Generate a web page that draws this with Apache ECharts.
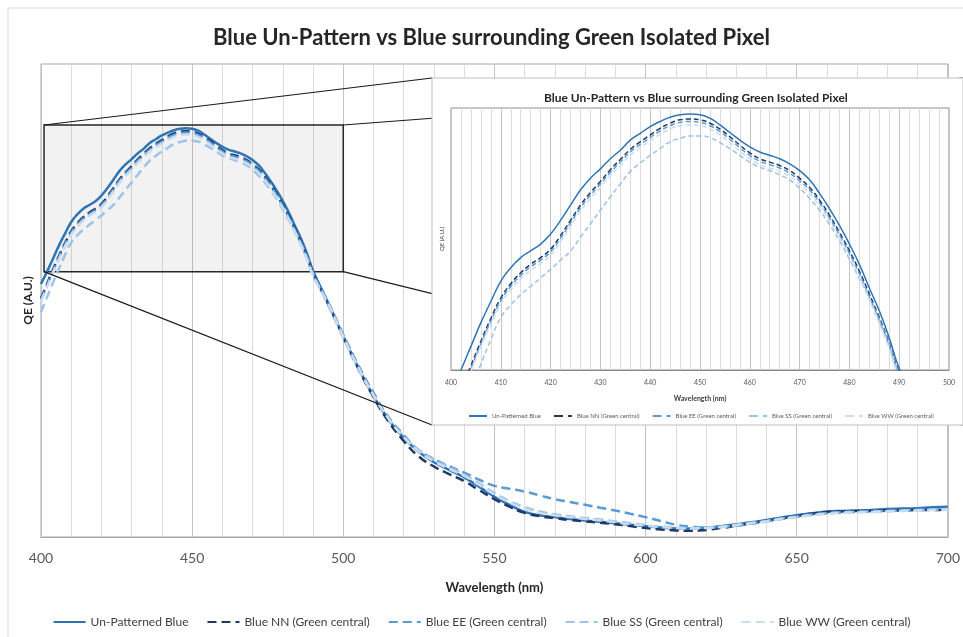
<!DOCTYPE html>
<html>
<head>
    <meta charset="utf-8">
    <title>Blue Un-Pattern vs Blue surrounding Green Isolated Pixel</title>
    <script src="https://cdn.jsdelivr.net/npm/echarts@6/dist/echarts.min.js"></script>
    <style>
        html, body { margin: 0; padding: 0; background: #fff; }
        #chart { width: 963px; height: 637px; }
    </style>
</head>
<body>
<div id="chart"></div>

<script>
    // wavelength (nm) - 2 nm steps in the zoomed part, 5 nm after
    const wavelengths = [
        400, 402, 404, 406, 408, 410, 412, 414, 416, 418, 420, 422, 424, 426, 428, 430,
        432, 434, 436, 438, 440, 442, 444, 446, 448, 450, 452, 454, 456, 458, 460, 462,
        464, 466, 468, 470, 472, 474, 476, 478, 480, 482, 484, 486, 488, 490,
        495, 500, 505, 510, 515, 520, 525, 530, 535, 540, 545, 550, 555, 560, 565, 570,
        575, 580, 585, 590, 595, 600, 605, 610, 615, 620, 625, 630, 635, 640, 645, 650,
        655, 660, 665, 670, 675, 680, 685, 690, 695, 700
    ];

    const unPatterned = [
        53.5, 56.1, 58.9, 61.7, 64.2, 66.6, 68.2, 69.4, 70.2, 71.0, 72.2, 73.8, 75.6, 77.4, 78.8, 79.9,
        81.1, 82.1, 83.3, 84.1, 84.9, 85.5, 86.0, 86.3, 86.4, 86.3, 85.9, 85.1, 84.2, 83.3, 82.5, 81.9,
        81.5, 81.1, 80.5, 79.7, 78.6, 77.0, 75.2, 73.2, 71.0, 68.6, 65.8, 63.1, 59.9, 56.3,
        49.5, 42.5, 35.8, 29.8, 24.8, 21.0, 18.0, 15.8, 14.2, 12.6, 10.6, 8.5, 6.8, 5.3, 4.6, 4.2,
        3.8, 3.5, 3.2, 2.9, 2.6, 2.3, 2.0, 1.8, 1.8, 2.0, 2.3, 2.7, 3.1, 3.6, 4.1, 4.6,
        5.0, 5.4, 5.5, 5.6, 5.7, 5.9, 6.0, 6.1, 6.3, 6.4
    ];
    const blueNN = [
        50.5, 53.5, 56.6, 59.5, 62.2, 64.6, 66.3, 67.6, 68.6, 69.4, 70.4, 72.0, 73.8, 75.6, 77.1, 78.4,
        79.8, 81.0, 82.2, 83.1, 83.9, 84.7, 85.3, 85.7, 85.8, 85.7, 85.3, 84.6, 83.7, 82.7, 81.8, 81.1,
        80.7, 80.3, 79.7, 78.8, 77.7, 76.2, 74.4, 72.4, 70.2, 67.8, 65.1, 62.3, 59.3, 55.8,
        49.2, 42.3, 35.6, 29.6, 24.4, 20.3, 17.0, 14.9, 13.3, 11.8, 9.9, 8.0, 6.4, 5.1, 4.4, 4.0,
        3.6, 3.3, 3.0, 2.7, 2.3, 1.9, 1.6, 1.4, 1.3, 1.5, 1.9, 2.4, 2.9, 3.4, 3.9, 4.4,
        4.9, 5.3, 5.4, 5.5, 5.5, 5.6, 5.6, 5.7, 5.7, 5.8
    ];
    const blueEE = [
        50.2, 53.2, 56.3, 59.2, 61.9, 64.3, 66.0, 67.3, 68.3, 69.1, 70.1, 71.7, 73.5, 75.3, 76.8, 78.1,
        79.5, 80.7, 81.9, 82.8, 83.6, 84.4, 85.0, 85.4, 85.5, 85.4, 85.0, 84.3, 83.4, 82.4, 81.5, 80.8,
        80.4, 80.0, 79.4, 78.5, 77.4, 75.9, 74.1, 72.1, 69.9, 67.5, 64.8, 62.0, 59.0, 55.5,
        49.6, 42.8, 36.3, 30.5, 25.3, 21.6, 18.3, 16.5, 15.0, 13.6, 12.1, 10.8, 10.2, 9.6, 8.8, 8.0,
        7.4, 6.8, 6.2, 5.6, 4.9, 4.2, 3.4, 2.6, 2.2, 2.0, 2.1, 2.4, 2.8, 3.3, 3.8, 4.3,
        4.7, 5.0, 5.2, 5.3, 5.4, 5.5, 5.6, 5.7, 5.8, 5.9
    ];
    const blueSS = [
        47.5, 50.7, 53.8, 56.8, 59.7, 62.3, 63.8, 65.0, 66.0, 67.0, 68.0, 69.1, 70.2, 71.8, 73.4, 75.0,
        76.6, 78.1, 79.6, 80.6, 81.5, 82.3, 83.1, 83.5, 83.8, 83.8, 83.6, 83.0, 82.3, 81.5, 80.7, 80.1,
        79.7, 79.2, 78.6, 77.6, 76.4, 75.0, 73.3, 71.4, 69.2, 66.9, 64.6, 62.0, 59.1, 55.6,
        49.0, 42.2, 35.7, 29.9, 25.0, 21.3, 18.4, 16.4, 14.8, 13.2, 11.3, 9.3, 7.6, 6.3, 5.4, 4.8,
        4.4, 4.0, 3.7, 3.3, 2.9, 2.5, 2.2, 2.0, 1.9, 2.0, 2.2, 2.6, 3.0, 3.4, 3.9, 4.3,
        4.7, 5.0, 5.2, 5.3, 5.4, 5.5, 5.6, 5.7, 5.8, 5.9
    ];
    const blueWW = [
        49.8, 52.8, 55.9, 58.8, 61.5, 63.9, 65.6, 66.9, 67.9, 68.7, 69.7, 71.3, 73.1, 74.9, 76.4, 77.7,
        79.1, 80.3, 81.5, 82.4, 83.2, 84.0, 84.6, 85.0, 85.1, 85.0, 84.6, 83.9, 83.0, 82.0, 81.1, 80.4,
        80.0, 79.6, 79.0, 78.1, 77.0, 75.5, 73.7, 71.7, 69.5, 67.1, 64.4, 61.6, 58.6, 55.2,
        49.3, 42.4, 35.8, 30.0, 25.0, 21.1, 18.1, 16.0, 14.4, 12.9, 11.0, 9.0, 7.3, 6.0, 5.1, 4.6,
        4.2, 3.8, 3.5, 3.1, 2.7, 2.4, 2.1, 1.9, 1.8, 1.9, 2.1, 2.5, 2.9, 3.3, 3.8, 4.2,
        4.6, 4.9, 5.1, 5.2, 5.3, 5.4, 5.5, 5.6, 5.7, 5.8
    ];

    const seriesNames = [
        'Un-Patterned Blue',
        'Blue NN (Green central)',
        'Blue EE (Green central)',
        'Blue SS (Green central)',
        'Blue WW (Green central)'
    ];
    const seriesValues = [unPatterned, blueNN, blueEE, blueSS, blueWW];
    const seriesColors = ['#2e75b6', '#1f3864', '#5b9bd5', '#9dc3e6', '#cadcf0'];

    // zoomed window (shown grey in the main plot, drawn again in the inset)
    const zoomX = [401, 500];
    const zoomY = [56.1, 87.1];

    const titleText = 'Blue Un-Pattern vs Blue surrounding Green Isolated Pixel';
    const FONT = 'Lato';

    // inset panel box
    const panel = { x: 432, y: 78, width: 531, height: 347 };

    function pairs(values) {
        return wavelengths.map((w, i) => [w, values[i]]);
    }

    function makeSeries(inset) {
        return seriesNames.map((name, i) => {
            const s = {
                name: name,
                type: 'line',
                xAxisIndex: inset ? 1 : 0,
                yAxisIndex: inset ? 1 : 0,
                data: pairs(seriesValues[i]),
                smooth: true,
                symbol: 'none',
                silent: true,
                z: inset ? 11 : 2,
                itemStyle: { color: seriesColors[i] },
                lineStyle: {
                    color: seriesColors[i],
                    width: inset ? 1.5 : 2.5,
                    type: i === 0 ? 'solid' : (inset ? [5, 3] : [9, 5])
                }
            };
            if (!inset && i === 0) {
                s.markArea = {
                    silent: true,
                    itemStyle: { color: 'rgba(0,0,0,0.05)', borderColor: '#262626', borderWidth: 1.5 },
                    data: [[{ coord: [zoomX[0], zoomY[1]] }, { coord: [zoomX[1], zoomY[0]] }]]
                };
            }
            return s;
        });
    }

    const chart = echarts.init(document.getElementById('chart'));
    chart.setOption({
        animation: false,
        backgroundColor: '#fff',
        title: [{
            text: titleText,
            left: 208,
            top: 22,
            textStyle: { fontFamily: FONT, fontWeight: 'bold', fontSize: 22, color: '#262626' }
        }, {
            text: titleText,
            left: 539,
            top: 87,
            z: 11,
            textStyle: { fontFamily: FONT, fontWeight: 'bold', fontSize: 12, color: '#262626' }
        }],
        legend: [{
            data: seriesNames,
            top: 611,
            left: 'center',
            itemWidth: 32,
            itemHeight: 8,
            itemGap: 18,
            itemStyle: { opacity: 0 },
            textStyle: { fontFamily: FONT, fontSize: 12, color: '#404040' }
        }, {
            data: seriesNames,
            top: 408,
            left: 463,
            width: 495,
            z: 11,
            itemWidth: 18,
            itemHeight: 6,
            itemGap: 12,
            itemStyle: { opacity: 0 },
            textStyle: { fontFamily: FONT, fontSize: 6, color: '#595959' }
        }],
        grid: [{
            left: 41, right: 13, top: 64, bottom: 100,
            show: true, borderColor: '#a6a6a6', borderWidth: 1
        }, {
            left: 451, right: 14, top: 108, bottom: 267,
            show: true, z: 10, borderColor: '#8c8c8c', borderWidth: 1,
            backgroundColor: 'transparent'
        }],
        xAxis: [{
            type: 'value', gridIndex: 0, min: 400, max: 700, interval: 50,
            name: 'Wavelength (nm)', nameLocation: 'middle', nameGap: 44,
            nameTextStyle: { fontFamily: FONT, fontWeight: 'bold', fontSize: 13, color: '#262626' },
            axisLine: { lineStyle: { color: '#a6a6a6' } },
            axisTick: { show: false },
            axisLabel: { fontFamily: FONT, fontSize: 14, color: '#595959', margin: 14 },
            splitLine: { show: true, lineStyle: { color: '#c4c4c4' } },
            minorTick: { show: false, splitNumber: 5 },
            minorSplitLine: { show: true, lineStyle: { color: '#dcdcdc' } }
        }, {
            type: 'value', gridIndex: 1, min: 400, max: 500, interval: 10, z: 10,
            name: 'Wavelength (nm)', nameLocation: 'middle', nameGap: 25,
            nameTextStyle: { fontFamily: FONT, fontWeight: 'bold', fontSize: 7, color: '#404040' },
            axisLine: { lineStyle: { color: '#8c8c8c' } },
            axisTick: { show: false },
            axisLabel: { fontFamily: FONT, fontSize: 7, color: '#595959', margin: 9 },
            splitLine: { show: true, lineStyle: { color: '#c4c4c4' } },
            minorTick: { show: false, splitNumber: 5 },
            minorSplitLine: { show: true, lineStyle: { color: '#dcdcdc' } }
        }],
        yAxis: [{
            type: 'value', gridIndex: 0, min: 0, max: 100,
            name: 'QE (A.U.)', nameLocation: 'middle', nameGap: 7,
            nameTextStyle: { fontFamily: FONT, fontWeight: 'bold', fontSize: 12, color: '#262626' },
            axisLine: { show: false }, axisTick: { show: false },
            axisLabel: { show: false }, splitLine: { show: false }
        }, {
            type: 'value', gridIndex: 1, min: zoomY[0], max: zoomY[1], z: 10,
            name: 'QE (A.U.)', nameLocation: 'middle', nameGap: 6,
            nameTextStyle: { fontFamily: FONT, fontSize: 6, color: '#404040' },
            axisLine: { show: false }, axisTick: { show: false },
            axisLabel: { show: false }, splitLine: { show: false }
        }],
        series: makeSeries(false).concat(makeSeries(true))
    });

    // zoom lines from the grey box corners to the inset panel corners
    const tl = chart.convertToPixel({ gridIndex: 0 }, [zoomX[0], zoomY[1]]);
    const tr = chart.convertToPixel({ gridIndex: 0 }, [zoomX[1], zoomY[1]]);
    const bl = chart.convertToPixel({ gridIndex: 0 }, [zoomX[0], zoomY[0]]);
    const br = chart.convertToPixel({ gridIndex: 0 }, [zoomX[1], zoomY[0]]);
    const pr = panel.x + panel.width, pb = panel.y + panel.height;
    const joins = [
        [tl, [panel.x, panel.y]],
        [tr, [pr, panel.y]],
        [bl, [panel.x, pb]],
        [br, [pr, pb]]
    ];

    chart.setOption({
        graphic: [{
            type: 'rect', z: 0, silent: true,
            shape: { x: 8, y: 8, width: 980, height: 660 },
            style: { fill: 'none', stroke: '#d9d9d9', lineWidth: 1 }
        }].concat(joins.map(j => ({
            type: 'line', z: 4, silent: true,
            shape: { x1: j[0][0], y1: j[0][1], x2: j[1][0], y2: j[1][1] },
            style: { stroke: '#1a1a1a', lineWidth: 1.2 }
        }))).concat([{
            type: 'rect', z: 5, silent: true,
            shape: { x: panel.x, y: panel.y, width: panel.width, height: panel.height },
            style: { fill: '#fff', stroke: '#bfbfbf', lineWidth: 1 }
        }])
    });
</script>
</body>
</html>
